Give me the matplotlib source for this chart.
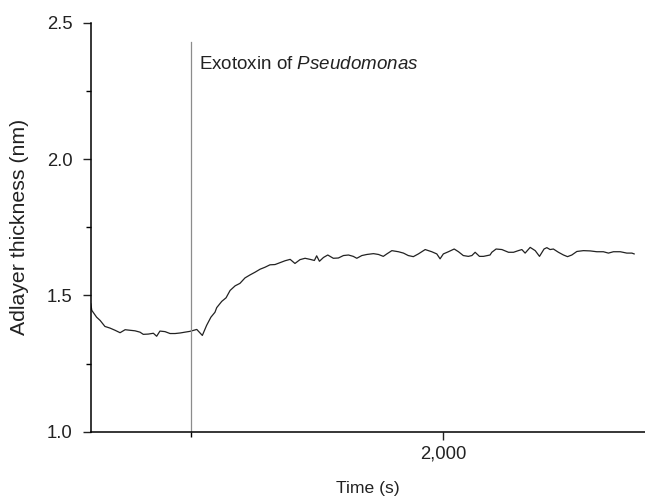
import matplotlib
matplotlib.use("Agg")
import matplotlib.pyplot as plt

plt.rcParams['font.family'] = ['Liberation Sans', 'DejaVu Sans']
plt.rcParams['mathtext.fontset'] = 'custom'
plt.rcParams['mathtext.rm'] = 'Liberation Sans'
plt.rcParams['mathtext.it'] = 'Liberation Sans:italic'

# time (s) and adlayer thickness (nm)
time_s = [604, 608, 627, 641, 660, 680, 700, 720, 740, 759, 779, 799, 812, 832,
          852, 865, 878, 898, 918, 938, 958, 977, 997, 1024, 1037, 1046, 1063,
          1080, 1096, 1103, 1123, 1140, 1156, 1176, 1195, 1215, 1235, 1255,
          1275, 1294, 1314, 1334, 1354, 1374, 1394, 1413, 1433, 1453, 1473,
          1490, 1499, 1510, 1526, 1543, 1565, 1585, 1605, 1625, 1644, 1658,
          1678, 1698, 1724, 1744, 1763, 1777, 1797, 1823, 1843, 1862, 1882,
          1902, 1929, 1955, 1975, 1988, 2001, 2021, 2044, 2061, 2080, 2100,
          2114, 2127, 2144, 2160, 2186, 2193, 2210, 2233, 2259, 2279, 2298,
          2312, 2325, 2345, 2365, 2382, 2400, 2411, 2424, 2437, 2457, 2477,
          2493, 2510, 2530, 2556, 2583, 2609, 2635, 2655, 2675, 2702, 2728,
          2748, 2757]
thickness = [1.469, 1.445, 1.420, 1.408, 1.386, 1.380, 1.372, 1.363, 1.374, 1.372,
             1.370, 1.365, 1.357, 1.358, 1.361, 1.350, 1.369, 1.367, 1.360, 1.360,
             1.362, 1.365, 1.368, 1.375, 1.362, 1.353, 1.390, 1.420, 1.438, 1.455,
             1.478, 1.491, 1.518, 1.535, 1.544, 1.564, 1.575, 1.585, 1.596, 1.603,
             1.612, 1.613, 1.620, 1.627, 1.632, 1.617, 1.631, 1.636, 1.632, 1.628,
             1.645, 1.625, 1.639, 1.648, 1.636, 1.637, 1.646, 1.648, 1.643, 1.636,
             1.646, 1.650, 1.653, 1.650, 1.643, 1.652, 1.664, 1.660, 1.655, 1.646,
             1.642, 1.652, 1.668, 1.660, 1.652, 1.634, 1.652, 1.660, 1.670, 1.660,
             1.646, 1.643, 1.646, 1.658, 1.643, 1.643, 1.648, 1.658, 1.670, 1.668,
             1.658, 1.658, 1.664, 1.668, 1.655, 1.676, 1.664, 1.643, 1.670, 1.675,
             1.668, 1.670, 1.658, 1.648, 1.642, 1.648, 1.661, 1.664, 1.663, 1.660,
             1.660, 1.655, 1.660, 1.660, 1.655, 1.655, 1.652]

injection_time = 1000
annotation = "Exotoxin of $\\it{Pseudomonas}$"

fig = plt.figure(figsize=(6.45, 4.99), dpi=100)
ax = fig.add_axes([0.1406, 0.1349, 0.8594, 0.8196])

ax.plot(time_s, thickness, color='#222222', lw=0.9)
ax.axvline(injection_time, ymin=0, ymax=(2.43 - 1.0) / 1.5, color='#8c8c8c', lw=0.9)
ax.text(injection_time + 33, 2.347, annotation, fontsize=13.5, va='center', color='#222222')

ax.set_xlim(603.6, 2800)
ax.set_ylim(1.0, 2.5)
ax.set_xticks([2000])
ax.set_xticklabels(['2,000'])
ax.set_xticks([injection_time], minor=True)
ax.set_yticks([1.0, 1.5, 2.0, 2.5])
ax.set_yticklabels(['1.0', '1.5', '2.0', '2.5'])
ax.set_yticks([1.25, 1.75, 2.25], minor=True)

for side in ['top', 'right']:
    ax.spines[side].set_visible(False)
for side in ['left', 'bottom']:
    ax.spines[side].set_linewidth(1.1)

ax.tick_params(which='major', direction='out', length=6, width=1.0, labelsize=13.3, colors='#222222')
ax.tick_params(which='minor', direction='out', length=3.5, width=1.0)
ax.tick_params(axis='y', which='major', pad=7)
ax.tick_params(axis='x', which='major', pad=4)

ax.set_xlabel("Time (s)", fontsize=12.6, color='#222222')
ax.xaxis.label.set_va('center')
ax.xaxis.set_label_coords(0.5, (431.7 - 489) / 409)
ax.set_ylabel("Adlayer thickness (nm)", fontsize=15.3, color='#222222')
ax.yaxis.label.set_va('center')
ax.yaxis.set_label_coords((20 - 90.7) / 554.3, 0.5)

fig.savefig("out.png", dpi=100)
